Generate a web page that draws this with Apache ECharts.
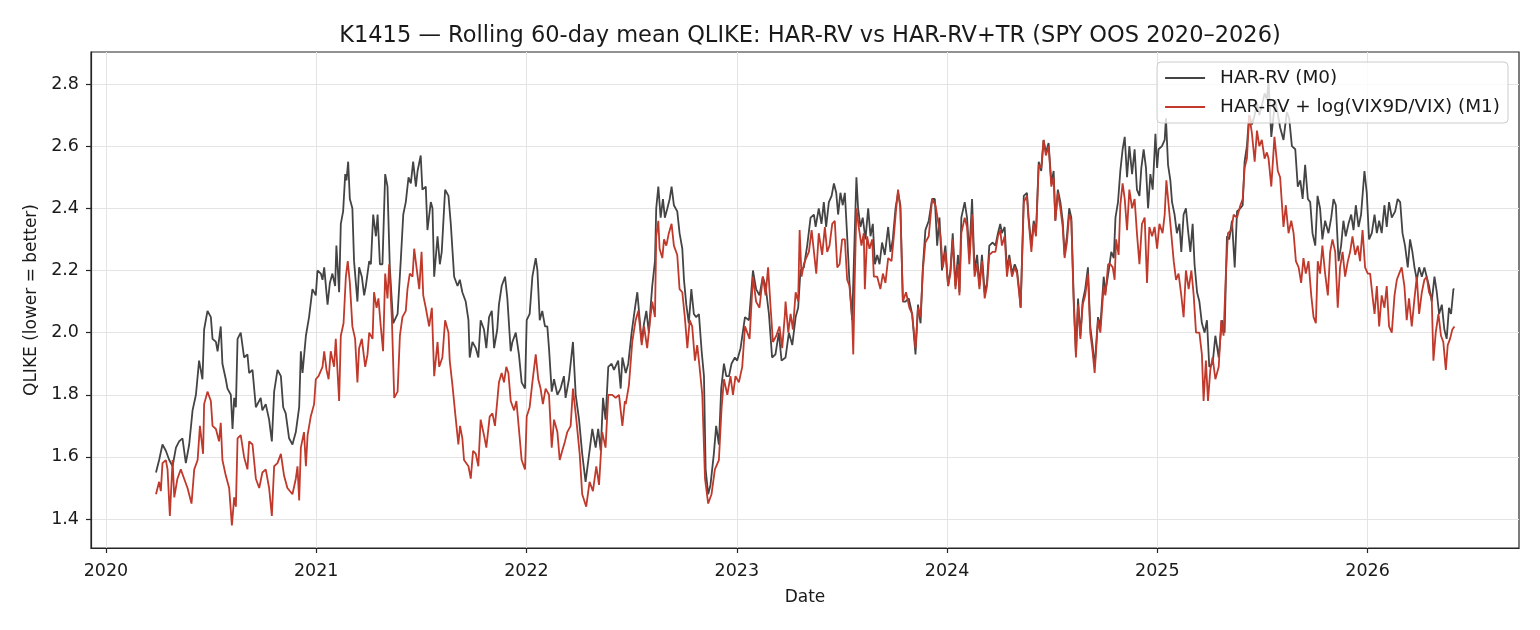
<!DOCTYPE html>
<html>
<head>
<meta charset="utf-8">
<script src="https://cdn.jsdelivr.net/npm/echarts@6/dist/echarts.min.js"></script>
<style>
html,body{margin:0;padding:0;background:#fff;}
#chart{width:1540px;height:630px;}
</style>
</head>
<body>
<div id="chart"></div>
<script>
// Time in decimal years, values = rolling 60-day mean QLIKE
const m0T = [
2020.238,2020.253,2020.269,2020.285,2020.301,2020.317,2020.333,2020.348,2020.364,2020.380,2020.396,2020.412,2020.428,2020.443,2020.459,2020.467,2020.483,2020.499,2020.507,2020.523,2020.531,2020.546,2020.554,2020.570,2020.578,2020.594,2020.602,2020.610,2020.618,2020.626,2020.641,2020.657,2020.673,2020.681,2020.697,2020.713,2020.736,2020.744,2020.760,2020.776,2020.789,2020.800,2020.816,2020.832,2020.843,2020.855,2020.871,2020.887,2020.903,2020.919,2020.927,2020.935,
2020.951,2020.966,2020.982,2020.998,2021.006,2021.022,2021.030,2021.038,2021.054,2021.065,2021.077,2021.090,2021.096,2021.109,2021.117,2021.128,2021.138,2021.144,2021.152,2021.160,2021.172,2021.180,2021.196,2021.204,2021.217,2021.228,2021.236,2021.252,2021.260,2021.271,2021.284,2021.292,2021.303,2021.315,2021.328,2021.339,2021.350,2021.366,2021.387,2021.402,2021.414,2021.426,2021.439,2021.450,2021.461,2021.474,2021.482,2021.497,2021.505,2021.521,2021.529,2021.545,2021.553,2021.561,2021.577,2021.588,2021.597,2021.613,2021.629,2021.640,2021.656,2021.672,2021.683,2021.695,2021.711,
2021.724,2021.730,2021.743,2021.759,2021.771,2021.782,2021.798,2021.809,2021.822,2021.835,2021.846,2021.861,2021.869,2021.882,2021.898,2021.909,2021.925,2021.933,2021.949,2021.964,2021.977,2021.993,2022.001,2022.015,2022.028,2022.044,2022.052,2022.063,2022.075,2022.088,2022.099,2022.107,2022.120,2022.131,2022.147,2022.162,2022.178,2022.186,2022.202,2022.221,2022.234,2022.250,2022.265,2022.281,2022.300,2022.313,2022.329,2022.341,2022.353,2022.364,2022.376,2022.389,2022.405,2022.416,2022.436,2022.448,2022.456,
2022.472,2022.484,2022.500,2022.516,2022.527,2022.535,2022.548,2022.559,2022.570,2022.582,2022.590,2022.598,2022.611,2022.617,2022.627,2022.638,2022.649,2022.658,2022.670,2022.681,2022.690,2022.701,2022.717,2022.728,2022.741,2022.749,2022.760,2022.772,2022.784,2022.796,2022.807,2022.820,2022.833,2022.844,2022.852,2022.864,2022.875,2022.891,2022.902,2022.915,2022.926,2022.939,2022.950,2022.963,2022.975,2022.991,2023.002,2023.018,2023.039,2023.058,2023.077,2023.092,2023.108,2023.124,2023.137,2023.153,2023.168,2023.184,2023.200,2023.213,
2023.232,2023.248,2023.264,2023.280,2023.292,2023.303,2023.319,2023.335,2023.351,2023.367,2023.375,2023.390,2023.403,2023.414,2023.425,2023.438,2023.451,2023.462,2023.473,2023.482,2023.493,2023.504,2023.514,2023.525,2023.536,2023.549,2023.557,2023.569,2023.577,2023.588,2023.599,2023.612,2023.625,2023.636,2023.647,2023.657,2023.668,2023.679,2023.691,2023.704,2023.720,2023.731,2023.742,2023.755,2023.767,2023.778,2023.790,2023.802,2023.818,2023.834,2023.850,2023.862,2023.874,2023.885,2023.897,2023.913,2023.929,2023.942,2023.953,2023.964,2023.976,
2023.992,2024.005,2024.016,2024.027,2024.040,2024.052,2024.059,2024.068,2024.084,2024.095,2024.106,2024.119,2024.131,2024.143,2024.154,2024.166,2024.179,2024.190,2024.201,2024.217,2024.230,2024.242,2024.253,2024.261,2024.274,2024.285,2024.296,2024.309,2024.322,2024.333,2024.344,2024.350,2024.365,2024.380,2024.388,2024.401,2024.412,2024.423,2024.436,2024.448,2024.459,2024.470,2024.483,2024.496,2024.507,2024.515,2024.527,2024.539,2024.550,2024.559,2024.570,2024.581,2024.591,2024.602,2024.613,2024.623,2024.634,2024.645,2024.657,2024.670,2024.681,2024.692,2024.702,2024.718,2024.729,2024.745,
2024.753,2024.769,2024.781,2024.793,2024.801,2024.813,2024.824,2024.835,2024.845,2024.856,2024.867,2024.880,2024.892,2024.903,2024.915,2024.924,2024.935,2024.946,2024.956,2024.967,2024.978,2024.991,2024.999,2025.006,2025.022,2025.035,2025.041,2025.051,2025.062,2025.070,2025.082,2025.093,2025.105,2025.114,2025.125,2025.136,2025.146,2025.157,2025.168,2025.177,2025.189,2025.200,2025.212,2025.225,2025.236,2025.247,2025.263,2025.276,2025.292,2025.307,2025.320,2025.331,2025.342,2025.355,2025.368,2025.379,2025.395,2025.406,2025.415,2025.426,2025.437,2025.450,2025.463,2025.474,2025.485,2025.497,2025.510,2025.521,2025.529,2025.542,2025.553,
2025.561,2025.584,2025.600,2025.616,2025.627,2025.640,2025.656,2025.668,2025.680,2025.691,2025.703,2025.716,2025.727,2025.738,2025.751,2025.762,2025.774,2025.785,2025.798,2025.814,2025.827,2025.838,2025.849,2025.862,2025.874,2025.885,2025.896,2025.909,2025.922,2025.933,2025.944,2025.957,2025.969,2025.985,2025.996,2026.007,2026.020,2026.033,2026.044,2026.055,2026.067,2026.080,2026.091,2026.102,2026.115,2026.131,2026.143,2026.155,2026.166,2026.178,2026.191,2026.202,2026.213,2026.223,2026.234,2026.245,2026.258,2026.270,2026.281,2026.292,2026.305,2026.318,2026.329,2026.340,2026.353,2026.365,2026.376,2026.387,2026.397,2026.408,2026.413
];
const m0V = [
1.55,1.59,1.64,1.62,1.59,1.57,1.63,1.65,1.66,1.58,1.64,1.75,1.80,1.91,1.85,2.01,2.07,2.05,1.98,1.97,1.94,2.02,1.90,1.85,1.82,1.80,1.69,1.79,1.76,1.98,2.00,1.92,1.93,1.87,1.88,1.76,1.79,1.75,1.77,1.72,1.65,1.81,1.88,1.86,1.76,1.74,1.66,1.64,1.68,1.76,1.94,1.87,
1.99,2.05,2.14,2.12,2.20,2.19,2.17,2.21,2.09,2.16,2.19,2.15,2.28,2.13,2.35,2.39,2.51,2.49,2.55,2.43,2.40,2.23,2.10,2.21,2.18,2.12,2.15,2.23,2.22,2.38,2.31,2.38,2.22,2.22,2.51,2.47,2.21,2.03,2.06,2.23,2.38,2.42,2.50,2.48,2.55,2.47,2.52,2.57,2.46,2.47,2.33,2.42,2.40,2.18,2.31,2.22,2.26,2.46,2.44,2.35,2.18,2.15,2.17,2.13,2.10,
2.04,1.92,1.97,1.95,1.92,2.04,2.01,1.95,2.05,2.07,1.95,2.01,2.09,2.15,2.18,2.11,1.94,1.97,2.00,1.93,1.84,1.82,2.04,2.06,2.18,2.24,2.20,2.04,2.07,2.02,2.02,1.95,1.81,1.85,1.80,1.82,1.86,1.79,1.85,1.97,1.80,1.72,1.61,1.52,1.62,1.69,1.63,1.69,1.62,1.79,1.72,1.89,1.90,1.88,1.91,1.82,1.92,
1.87,1.90,2.00,2.08,2.13,2.13,1.97,2.03,2.07,2.00,2.08,2.15,2.23,2.40,2.47,2.37,2.43,2.37,2.40,2.43,2.47,2.41,2.39,2.32,2.27,2.17,2.09,2.03,2.14,2.06,2.05,2.06,1.94,1.86,1.56,1.48,1.51,1.61,1.70,1.64,1.82,1.90,1.86,1.86,1.90,1.92,1.91,1.95,2.05,2.04,2.20,2.14,2.12,2.18,2.15,2.06,1.92,1.93,2.00,1.91,
1.92,2.00,1.96,2.05,2.08,2.20,2.21,2.28,2.37,2.38,2.34,2.40,2.35,2.42,2.34,2.42,2.44,2.48,2.45,2.38,2.45,2.41,2.45,2.31,2.16,2.04,2.23,2.50,2.40,2.34,2.37,2.30,2.40,2.31,2.35,2.22,2.25,2.22,2.29,2.25,2.34,2.26,2.30,2.40,2.45,2.41,2.10,2.10,2.11,2.06,1.93,2.09,2.03,2.21,2.33,2.36,2.43,2.43,2.28,2.37,2.20,
2.28,2.15,2.20,2.32,2.15,2.25,2.13,2.37,2.42,2.37,2.25,2.43,2.20,2.25,2.15,2.25,2.13,2.16,2.28,2.29,2.28,2.32,2.35,2.32,2.34,2.20,2.25,2.19,2.22,2.20,2.13,2.08,2.44,2.45,2.37,2.28,2.36,2.32,2.55,2.52,2.62,2.58,2.61,2.48,2.52,2.36,2.46,2.42,2.36,2.25,2.31,2.40,2.37,2.12,1.93,2.11,1.99,2.10,2.14,2.21,2.02,1.96,1.89,2.05,2.02,2.18,
2.13,2.20,2.26,2.24,2.37,2.42,2.52,2.59,2.63,2.50,2.60,2.51,2.59,2.46,2.44,2.53,2.59,2.53,2.40,2.51,2.46,2.64,2.53,2.59,2.60,2.62,2.69,2.54,2.49,2.42,2.38,2.32,2.35,2.26,2.38,2.40,2.33,2.26,2.35,2.22,2.13,2.10,2.03,2.00,2.04,1.89,1.90,1.99,1.92,2.04,2.00,2.31,2.30,2.36,2.21,2.39,2.40,2.41,2.55,2.60,2.70,2.67,2.70,2.74,2.70,2.73,2.77,2.75,2.81,2.63,2.70,
2.75,2.66,2.62,2.71,2.69,2.60,2.59,2.47,2.49,2.43,2.54,2.43,2.42,2.32,2.28,2.44,2.40,2.30,2.36,2.32,2.37,2.43,2.41,2.23,2.28,2.36,2.31,2.35,2.38,2.33,2.41,2.34,2.38,2.52,2.45,2.30,2.32,2.38,2.32,2.36,2.32,2.41,2.34,2.42,2.37,2.39,2.43,2.42,2.32,2.28,2.21,2.30,2.26,2.21,2.17,2.21,2.18,2.21,2.18,2.15,2.10,2.18,2.13,2.06,2.09,2.01,1.98,2.08,2.06,2.14,2.14
];
const m1T = [
2020.238,2020.253,2020.261,2020.269,2020.285,2020.293,2020.304,2020.317,2020.325,2020.340,2020.356,2020.372,2020.388,2020.407,2020.420,2020.436,2020.447,2020.462,2020.467,2020.483,2020.499,2020.507,2020.523,2020.538,2020.546,2020.554,2020.570,2020.586,2020.599,2020.610,2020.618,2020.626,2020.641,2020.657,2020.673,2020.681,2020.697,2020.713,2020.729,2020.744,2020.760,2020.776,2020.789,2020.800,2020.816,2020.832,2020.847,2020.863,2020.887,2020.903,2020.911,2020.919,2020.927,2020.942,
2020.951,2020.959,2020.974,2020.990,2020.998,2021.011,2021.030,2021.038,2021.049,2021.059,2021.069,2021.085,2021.093,2021.109,2021.117,2021.130,2021.141,2021.150,2021.160,2021.172,2021.185,2021.196,2021.204,2021.217,2021.233,2021.244,2021.252,2021.268,2021.275,2021.287,2021.296,2021.307,2021.318,2021.328,2021.339,2021.347,2021.360,2021.371,2021.387,2021.398,2021.410,2021.426,2021.434,2021.445,2021.458,2021.466,2021.477,2021.490,2021.501,2021.509,2021.521,2021.537,2021.550,2021.561,2021.577,2021.585,2021.600,2021.613,2021.629,2021.635,2021.648,2021.661,2021.676,2021.684,2021.695,2021.703,
2021.724,2021.735,2021.746,2021.759,2021.771,2021.782,2021.798,2021.809,2021.825,2021.838,2021.850,2021.861,2021.869,2021.882,2021.893,2021.904,2021.914,2021.925,2021.941,2021.952,2021.964,2021.977,2021.993,2022.001,2022.015,2022.028,2022.044,2022.056,2022.067,2022.078,2022.091,2022.107,2022.120,2022.131,2022.147,2022.158,2022.170,2022.183,2022.194,2022.210,2022.221,2022.237,2022.253,2022.265,2022.284,2022.300,2022.316,2022.332,2022.345,2022.360,2022.376,2022.389,2022.408,2022.424,2022.440,2022.456,2022.468,
2022.472,2022.487,2022.503,2022.519,2022.532,2022.548,2022.559,2022.574,2022.586,2022.598,2022.611,2022.617,2022.627,2022.633,2022.646,2022.654,2022.665,2022.677,2022.690,2022.701,2022.717,2022.728,2022.741,2022.753,2022.765,2022.776,2022.788,2022.801,2022.812,2022.823,2022.836,2022.849,2022.864,2022.880,2022.896,2022.915,2022.928,2022.939,2022.955,2022.970,2022.982,2022.994,2023.010,2023.026,2023.039,2023.061,2023.077,2023.092,2023.108,2023.124,2023.137,2023.149,2023.161,2023.172,2023.188,2023.203,2023.216,2023.229,
2023.232,2023.245,2023.256,2023.267,2023.280,2023.292,2023.299,2023.308,2023.319,2023.330,2023.343,2023.356,2023.367,2023.378,2023.390,2023.406,2023.419,2023.430,2023.441,2023.454,2023.466,2023.478,2023.489,2023.501,2023.514,2023.525,2023.536,2023.549,2023.554,2023.561,2023.569,2023.580,2023.593,2023.604,2023.609,2023.620,2023.631,2023.644,2023.652,2023.668,2023.683,2023.695,2023.707,2023.720,2023.736,2023.747,2023.758,2023.767,2023.778,2023.790,2023.805,2023.821,2023.834,2023.850,2023.862,2023.874,2023.885,2023.897,2023.913,2023.929,2023.945,2023.957,2023.969,2023.980,
2023.992,2024.005,2024.016,2024.027,2024.040,2024.052,2024.059,2024.068,2024.084,2024.095,2024.106,2024.119,2024.131,2024.143,2024.154,2024.166,2024.179,2024.190,2024.201,2024.217,2024.230,2024.242,2024.253,2024.261,2024.274,2024.285,2024.296,2024.309,2024.322,2024.333,2024.344,2024.350,2024.365,2024.380,2024.388,2024.401,2024.412,2024.423,2024.436,2024.448,2024.459,2024.470,2024.483,2024.496,2024.507,2024.515,2024.527,2024.539,2024.550,2024.559,2024.570,2024.581,2024.591,2024.602,2024.613,2024.623,2024.634,2024.645,2024.657,2024.670,2024.681,2024.692,2024.702,2024.718,2024.729,2024.745,
2024.753,2024.766,2024.777,2024.788,2024.797,2024.804,2024.816,2024.824,2024.835,2024.845,2024.856,2024.867,2024.880,2024.892,2024.903,2024.915,2024.927,2024.940,2024.951,2024.962,2024.975,2024.987,2024.999,2025.010,2025.025,2025.035,2025.043,2025.054,2025.066,2025.078,2025.089,2025.101,2025.114,2025.125,2025.136,2025.149,2025.162,2025.173,2025.184,2025.200,2025.212,2025.220,2025.231,2025.241,2025.252,2025.263,2025.276,2025.292,2025.304,2025.315,2025.326,2025.336,2025.352,2025.363,2025.379,2025.395,2025.406,2025.415,2025.426,2025.437,2025.450,2025.463,2025.474,2025.485,2025.497,2025.510,2025.521,2025.529,2025.542,
2025.557,2025.573,2025.584,2025.600,2025.611,2025.624,2025.637,2025.648,2025.659,2025.672,2025.684,2025.695,2025.706,2025.719,2025.732,2025.743,2025.754,2025.763,2025.774,2025.785,2025.798,2025.811,2025.822,2025.833,2025.846,2025.858,2025.869,2025.881,2025.893,2025.906,2025.917,2025.928,2025.941,2025.953,2025.964,2025.976,2025.988,2026.001,2026.012,2026.023,2026.033,2026.044,2026.055,2026.067,2026.080,2026.091,2026.102,2026.115,2026.128,2026.139,2026.150,2026.162,2026.175,2026.186,2026.197,2026.210,2026.223,2026.234,2026.245,2026.258,2026.270,2026.281,2026.292,2026.305,2026.313,2026.324,2026.337,2026.349,2026.360,2026.372,2026.381,2026.392,2026.403,2026.413
];
const m1V = [
1.48,1.52,1.49,1.58,1.59,1.56,1.41,1.59,1.47,1.53,1.56,1.53,1.50,1.45,1.56,1.59,1.70,1.61,1.77,1.81,1.78,1.70,1.69,1.65,1.71,1.59,1.54,1.50,1.38,1.47,1.44,1.66,1.67,1.60,1.56,1.65,1.64,1.53,1.50,1.55,1.56,1.50,1.41,1.57,1.58,1.61,1.54,1.50,1.48,1.53,1.57,1.46,1.63,1.68,
1.57,1.67,1.73,1.77,1.85,1.86,1.89,1.94,1.88,1.85,1.94,1.89,1.98,1.78,1.99,2.03,2.18,2.23,2.16,2.02,1.98,1.84,1.95,1.98,1.89,1.93,2.00,1.98,2.13,2.08,2.11,2.02,1.94,2.19,2.11,2.22,2.04,1.79,1.81,1.99,2.05,2.07,2.14,2.19,2.18,2.27,2.21,2.14,2.26,2.12,2.08,2.02,2.08,1.86,1.97,1.89,1.92,2.04,2.00,1.91,1.83,1.74,1.64,1.70,1.66,1.59,
1.57,1.53,1.62,1.61,1.57,1.72,1.67,1.63,1.73,1.74,1.70,1.78,1.84,1.87,1.84,1.89,1.87,1.78,1.75,1.78,1.69,1.59,1.56,1.73,1.76,1.84,1.93,1.85,1.82,1.77,1.82,1.80,1.63,1.72,1.68,1.59,1.62,1.65,1.68,1.70,1.82,1.72,1.61,1.48,1.44,1.52,1.49,1.57,1.51,1.68,1.63,1.80,1.80,1.79,1.80,1.70,1.78,
1.77,1.83,1.97,2.04,2.07,1.96,2.02,1.95,2.03,2.10,2.05,2.31,2.36,2.27,2.24,2.30,2.28,2.32,2.35,2.28,2.25,2.14,2.13,2.05,1.95,2.04,2.02,1.91,1.96,1.89,1.80,1.53,1.45,1.48,1.56,1.59,1.76,1.85,1.80,1.86,1.80,1.86,1.84,1.89,2.02,1.98,2.18,2.10,2.08,2.18,2.12,2.21,2.08,1.97,1.99,2.02,1.95,2.06,
2.10,2.00,2.06,2.01,2.13,2.10,2.33,2.18,2.22,2.24,2.26,2.33,2.26,2.19,2.32,2.25,2.34,2.26,2.28,2.35,2.36,2.21,2.22,2.30,2.30,2.17,2.15,2.04,1.93,2.17,2.40,2.34,2.28,2.32,2.14,2.31,2.27,2.30,2.18,2.18,2.14,2.19,2.16,2.24,2.23,2.31,2.40,2.46,2.40,2.10,2.13,2.08,2.06,1.95,2.08,2.05,2.20,2.29,2.31,2.43,2.41,2.36,2.31,2.21,
2.26,2.15,2.19,2.30,2.14,2.22,2.12,2.32,2.37,2.34,2.22,2.38,2.18,2.22,2.14,2.23,2.11,2.15,2.25,2.26,2.26,2.31,2.33,2.28,2.31,2.18,2.24,2.18,2.21,2.19,2.12,2.08,2.42,2.44,2.36,2.26,2.35,2.31,2.54,2.53,2.62,2.57,2.60,2.47,2.50,2.36,2.45,2.40,2.34,2.24,2.29,2.38,2.36,2.10,1.92,2.09,1.98,2.09,2.12,2.19,2.00,1.94,1.87,2.04,2.00,2.15,
2.12,2.22,2.22,2.21,2.17,2.30,2.25,2.41,2.48,2.43,2.33,2.46,2.40,2.43,2.32,2.22,2.35,2.37,2.16,2.34,2.31,2.34,2.27,2.35,2.32,2.38,2.49,2.41,2.32,2.23,2.17,2.19,2.12,2.05,2.20,2.14,2.20,2.12,2.00,2.00,1.93,1.78,1.91,1.78,1.88,1.92,1.85,1.89,2.04,1.99,2.19,2.32,2.33,2.38,2.37,2.41,2.43,2.53,2.56,2.70,2.64,2.55,2.65,2.60,2.62,2.56,2.58,2.56,2.47,
2.63,2.52,2.50,2.34,2.41,2.32,2.36,2.32,2.23,2.21,2.16,2.24,2.19,2.23,2.12,2.05,2.03,2.23,2.19,2.28,2.19,2.12,2.26,2.30,2.26,2.08,2.21,2.26,2.18,2.23,2.26,2.31,2.25,2.28,2.23,2.33,2.21,2.19,2.19,2.12,2.06,2.15,2.02,2.12,2.08,2.15,2.02,2.00,2.12,2.17,2.19,2.21,2.15,2.04,2.11,2.02,2.11,2.18,2.06,2.13,2.17,2.18,2.13,2.11,1.91,2.00,2.06,1.99,1.97,1.88,1.96,1.98,2.01,2.02
];
const yearTicks = [2020, 2021, 2022, 2023, 2024, 2025, 2026];
const qlikeTicks = [1.4, 1.6, 1.8, 2.0, 2.2, 2.4, 2.6, 2.8];
const seriesNames = ['HAR-RV (M0)', 'HAR-RV + log(VIX9D/VIX) (M1)'];

function pairs(ts, vs) {
  const n = Math.min(ts.length, vs.length);
  const out = [];
  for (let i = 0; i < n; i++) out.push([ts[i], vs[i]]);
  out.sort((a, b) => a[0] - b[0]);
  return out;
}

const FONT = 'DejaVu Sans';
const chart = echarts.init(document.getElementById('chart'), null, {renderer: 'canvas'});
chart.setOption({
  animation: false,
  backgroundColor: '#ffffff',
  textStyle: {fontFamily: FONT},
  title: {
    text: 'K1415 — Rolling 60-day mean QLIKE: HAR-RV vs HAR-RV+TR (SPY OOS 2020–2026)',
    left: 805, top: 20, textAlign: 'center',
    textStyle: {fontFamily: FONT, fontSize: 22.5, fontWeight: 'normal', color: '#1a1a1a'}
  },
  legend: {
    orient: 'vertical', right: 32, top: 62,
    data: seriesNames,
    icon: 'rect',
    itemWidth: 40, itemHeight: 2, itemGap: 11,
    padding: [7, 8, 7, 8],
    backgroundColor: 'rgba(255,255,255,0.8)',
    borderColor: '#cccccc', borderWidth: 1, borderRadius: 4,
    textStyle: {fontFamily: FONT, fontSize: 18.4, color: '#1a1a1a', padding: [0, 0, 0, 10]}
  },
  grid: {left: 91, right: 21, top: 52, bottom: 82, show: true, borderColor: '#262626', borderWidth: 1.2, backgroundColor: 'transparent'},
  xAxis: {
    type: 'value', min: 2019.929, max: 2026.72,
    name: 'Date', nameLocation: 'middle', nameGap: 41,
    nameTextStyle: {fontFamily: FONT, fontSize: 17, color: '#1a1a1a'},
    axisLine: {show: true, lineStyle: {color: '#262626', width: 1.2}},
    axisTick: {show: true, inside: false, length: 5, lineStyle: {color: '#262626', width: 1.2}, customValues: yearTicks},
    axisLabel: {customValues: yearTicks, formatter: v => String(Math.round(v)), margin: 14, fontSize: 17.5, color: '#1a1a1a', fontFamily: FONT},
    splitLine: {show: true, lineStyle: {color: '#e4e4e4', width: 1}}
  },
  yAxis: {
    type: 'value', min: 1.307, max: 2.903,
    name: 'QLIKE (lower = better)', nameLocation: 'middle', nameGap: 50,
    nameTextStyle: {fontFamily: FONT, fontSize: 17, color: '#1a1a1a'},
    axisLine: {show: true, lineStyle: {color: '#262626', width: 1.2}},
    axisTick: {show: true, inside: false, length: 5, lineStyle: {color: '#262626', width: 1.2}, customValues: qlikeTicks},
    axisLabel: {customValues: qlikeTicks, formatter: v => v.toFixed(1), margin: 12, fontSize: 17.5, color: '#1a1a1a', fontFamily: FONT},
    splitLine: {show: true, lineStyle: {color: '#e4e4e4', width: 1}}
  },
  series: [
    {name: seriesNames[0], type: 'line', data: pairs(m0T, m0V), showSymbol: false, symbol: 'none',
     lineStyle: {color: '#444444', width: 1.8}, itemStyle: {color: '#444444'}, z: 2},
    {name: seriesNames[1], type: 'line', data: pairs(m1T, m1V), showSymbol: false, symbol: 'none',
     lineStyle: {color: '#c0392b', width: 1.8}, itemStyle: {color: '#c0392b'}, z: 3}
  ]
});
</script>
</body>
</html>
